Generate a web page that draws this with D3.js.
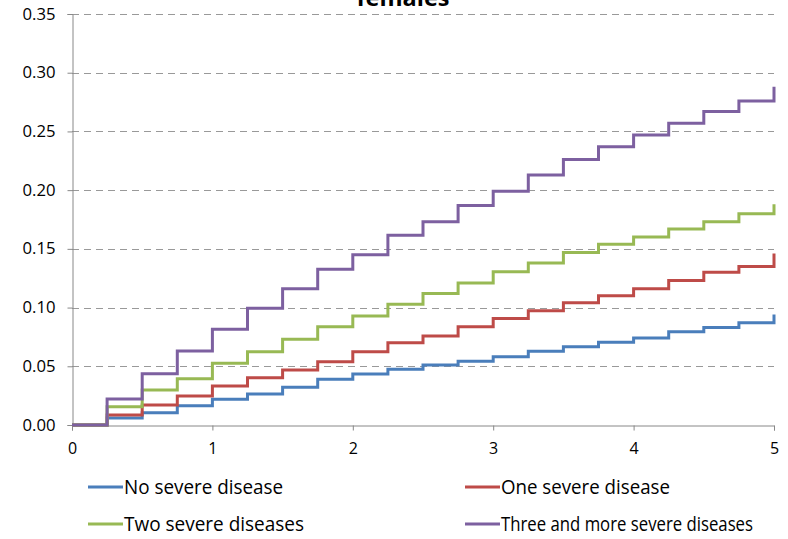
<!DOCTYPE html>
<html>
<head>
<meta charset="utf-8">
<script src="https://cdn.jsdelivr.net/npm/d3@7"></script>
<style>
  body { margin: 0; background: #fff; }
  svg text { font-family: "Open Sans", "Noto Sans", sans-serif; }
</style>
</head>
<body>
<div id="chart"></div>
<script>
// years since baseline (step starts) plus the end point at 5
const years = [0, 0.25, 0.5, 0.75, 1, 1.25, 1.5, 1.75, 2, 2.25, 2.5, 2.75, 3, 3.25, 3.5, 3.75, 4, 4.25, 4.5, 4.75, 5];

const noSevere = [0, 0.006, 0.0105, 0.0164, 0.0219, 0.0264, 0.0321, 0.0389, 0.0434, 0.0474, 0.0511, 0.0542, 0.0582, 0.0627, 0.0667, 0.0704, 0.074, 0.0795, 0.083, 0.087, 0.094];
const oneSevere = [0, 0.0085, 0.017, 0.0247, 0.0332, 0.0403, 0.0468, 0.0539, 0.0624, 0.070, 0.0758, 0.0837, 0.0908, 0.0973, 0.104, 0.110, 0.116, 0.123, 0.130, 0.135, 0.146];
const twoSevere = [0, 0.0156, 0.0298, 0.0394, 0.0525, 0.0624, 0.073, 0.0837, 0.0928, 0.1028, 0.112, 0.121, 0.1306, 0.138, 0.147, 0.154, 0.160, 0.167, 0.173, 0.180, 0.188];
const threePlus = [0, 0.0221, 0.0437, 0.063, 0.0815, 0.0994, 0.116, 0.1326, 0.145, 0.1615, 0.173, 0.187, 0.199, 0.213, 0.226, 0.237, 0.247, 0.257, 0.267, 0.276, 0.288];

const seriesNames = ['No severe disease', 'One severe disease', 'Two severe diseases', 'Three and more severe diseases'];
const seriesColors = ['#4a7ebb', '#be4b48', '#98b954', '#7d60a0'];
const seriesValues = [noSevere, oneSevere, twoSevere, threePlus];

const yTicks = [0, 0.05, 0.10, 0.15, 0.20, 0.25, 0.30, 0.35];
const xTicks = [0, 1, 2, 3, 4, 5];
const title = 'females';

const width = 788;
const height = 539;
const margin = { top: 14, right: 14, bottom: 114, left: 72 };

const svg = d3.select('#chart').append('svg')
  .attr('width', width)
  .attr('height', height);

const x = d3.scaleLinear().domain([0, 5]).range([margin.left, width - margin.right]);
const y = d3.scaleLinear().domain([0, 0.35]).range([height - margin.bottom, margin.top]);

// gridlines
svg.append('g')
  .selectAll('line')
  .data(yTicks.filter(d => d > 0))
  .join('line')
  .attr('x1', x(0))
  .attr('x2', x(5))
  .attr('y1', d => Math.round(y(d)) + 0.5)
  .attr('y2', d => Math.round(y(d)) + 0.5)
  .attr('stroke', '#999')
  .attr('stroke-width', 1.2)
  .attr('stroke-dasharray', '7,5');

// y axis
const yAxis = svg.append('g')
  .attr('transform', `translate(${x(0) + 0.5},0)`)
  .call(d3.axisLeft(y).tickValues(yTicks).tickFormat(d3.format('.2f')).tickSize(5).tickPadding(12));
yAxis.select('.domain').attr('stroke', '#888');
yAxis.selectAll('.tick line').attr('stroke', '#888');
yAxis.selectAll('.tick text').attr('fill', '#000').style('font-size', '16px')
  .attr('textLength', 33).attr('lengthAdjust', 'spacingAndGlyphs');

// x axis
const xAxis = svg.append('g')
  .attr('transform', `translate(0,${Math.round(y(0)) + 0.5})`)
  .call(d3.axisBottom(x).tickValues(xTicks).tickFormat(d3.format('d')).tickSize(5).tickPadding(12));
xAxis.select('.domain').attr('stroke', '#888');
xAxis.selectAll('.tick line').attr('stroke', '#888');
xAxis.selectAll('.tick text').attr('fill', '#000').style('font-size', '16px');

// step lines
const line = d3.line()
  .x(d => x(d[0]))
  .y(d => y(d[1]))
  .curve(d3.curveStepAfter);

seriesValues.forEach((vals, i) => {
  svg.append('path')
    .datum(years.map((t, j) => [t, vals[j]]))
    .attr('fill', 'none')
    .attr('stroke', seriesColors[i])
    .attr('stroke-width', 3)
    .attr('d', line);
});

// title (cut at the top, as in the original)
svg.append('text')
  .attr('x', 403)
  .attr('y', 6)
  .attr('text-anchor', 'middle')
  .style('font-size', '24px')
  .style('font-weight', 'bold')
  .attr('textLength', 93)
  .attr('lengthAdjust', 'spacingAndGlyphs')
  .text(title);

// legend
const legendPos = [[88, 487], [465, 487], [88, 524], [465, 524]];
const legendWidths = [159, 169, 180, 252];
seriesNames.forEach((name, i) => {
  const [lx, ly] = legendPos[i];
  svg.append('line')
    .attr('x1', lx).attr('x2', lx + 35)
    .attr('y1', ly).attr('y2', ly)
    .attr('stroke', seriesColors[i])
    .attr('stroke-width', 3);
  svg.append('text')
    .attr('x', lx + 36)
    .attr('y', ly + 7)
    .style('font-size', '20px')
    .attr('textLength', legendWidths[i])
    .attr('lengthAdjust', 'spacingAndGlyphs')
    .text(name);
});
</script>
</body>
</html>
